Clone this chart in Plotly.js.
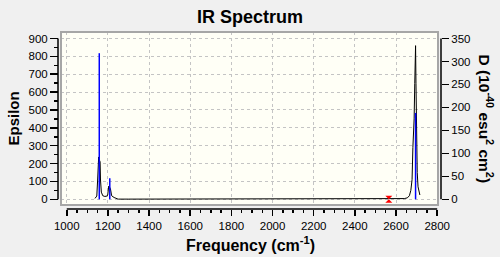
<!DOCTYPE html>
<html><head><meta charset="utf-8">
<script src="https://cdn.plot.ly/plotly-3.0.1.min.js"></script>
<style>html,body{margin:0;padding:0;background:#f0f0f0;}#chart{width:500px;height:257px;}</style>
</head><body><div id="chart"></div>
<script>
// Broadened IR spectrum (Epsilon, left axis)
const specFreq = [1137,1142,1146,1150,1155,1160,1162,1164,1168,1175,1185,1195,1199,1204,1208,1212,1218,1230,1245,1251,1300,1945,1950,2640,2655,2665,2672,2678,2682,2688,2691,2695,2697,2699,2701,2703,2707,2712,2716];
const specEps  = [5,10,18,108,237,215,210,108,40,20,16,18,24,74,70,61,20,10,3,1,1,1,4,4,8,20,50,110,290,450,649,860,649,300,230,150,70,40,24];
// Stick spectrum (dipole strength D, right axis)
const stickFreq = [1158,1209,2695];
const stickD    = [318,45.6,188];
// Selected point marker
const markFreq = [2565];
const markEps  = [0];
// Tick values
const xTicks = [1000,1200,1400,1600,1800,2000,2200,2400,2600,2800];
const yTicks = [0,100,200,300,400,500,600,700,800,900];
const y2Ticks = [0,50,100,150,200,250,300,350];

const stickX = [], stickY = [];
stickFreq.forEach((f,i)=>{ stickX.push(f,f,null); stickY.push(0,stickD[i],null); });

const F = 'Liberation Sans, Arial, sans-serif';
const tickFont = {family:F, size:11.5, color:'#000'};
const traces = [
  {x:specFreq, y:specEps, type:'scatter', mode:'lines', line:{color:'#000', width:1}, xaxis:'x', yaxis:'y', hoverinfo:'skip'},
  {x:stickX, y:stickY, type:'scatter', mode:'lines', line:{color:'#0000ff', width:1.5}, xaxis:'x', yaxis:'y2', hoverinfo:'skip'},
  {x:markFreq, y:markEps, type:'scatter', mode:'markers', marker:{symbol:'hourglass', size:7, color:'#ff0000'}, xaxis:'x', yaxis:'y', hoverinfo:'skip'}
];

const gridStyle = {showgrid:true, gridcolor:'#c4c4c4', gridwidth:1, griddash:'3px,3px'};
const layout = {
  width:500, height:257,
  margin:{l:58, r:59, t:32, b:48, pad:0},
  paper_bgcolor:'#f0f0f0', plot_bgcolor:'#fffff6',
  showlegend:false,
  xaxis:Object.assign({
    domain:[3/383, 380/383], range:[972, 2804], anchor:'free', position:0,
    tickmode:'array', tickvals:xTicks, ticktext:xTicks.map(String),
    ticks:'outside', ticklen:6, tickwidth:1.5, tickcolor:'#000',
    minor:{tickmode:'linear', tick0:1000, dtick:50, ticks:'outside', ticklen:3, tickwidth:1.5, tickcolor:'#000', showgrid:false},
    showline:false, zeroline:false, tickfont:tickFont
  }, gridStyle),
  yaxis:Object.assign({
    domain:[4/177, 1], range:[-31.9, 936.4], anchor:'free', position:0,
    tickmode:'array', tickvals:yTicks, ticktext:yTicks.map(String),
    ticks:'outside', ticklen:8, tickwidth:1.5, tickcolor:'#000',
    minor:{tickmode:'linear', tick0:0, dtick:50, ticks:'outside', ticklen:4, tickwidth:1.5, tickcolor:'#000', showgrid:false},
    showline:false, zeroline:false, tickfont:tickFont
  }, gridStyle),
  yaxis2:{
    overlaying:'y', side:'right', anchor:'free', position:1,
    range:[-31.9*350/900, 936.4*350/900],
    tickmode:'array', tickvals:y2Ticks, ticktext:y2Ticks.map(String),
    ticks:'outside', ticklen:7, tickwidth:1.5, tickcolor:'#000',
    showgrid:false, showline:false, zeroline:false, tickfont:tickFont
  },
  shapes:[
    {type:'rect', xref:'paper', yref:'paper', x0:3/383, x1:380/383, y0:4/177, y1:1, line:{color:'#a6a6a6', width:2}, layer:'above'},
    {type:'line', xref:'paper', yref:'y', x0:0, x1:0, y0:0, y1:900, line:{color:'#000', width:1.5}},
    {type:'line', xref:'paper', yref:'y', x0:1, x1:1, y0:0, y1:900, line:{color:'#000', width:1.5}},
    {type:'line', xref:'x', yref:'paper', x0:1000, x1:2800, y0:0, y1:0, line:{color:'#000', width:1.5}}
  ],
  annotations:[
    {text:'<b>IR Spectrum</b>', xref:'paper', yref:'paper', x:0.5, y:(209-16.5)/177, xanchor:'center', yanchor:'middle', showarrow:false, font:{family:F, size:18, color:'#000'}},
    {text:'<b>Epsilon</b>', xref:'paper', yref:'paper', x:(12.5-58)/383, y:(209-119)/177, xanchor:'center', yanchor:'middle', textangle:-90, showarrow:false, font:{family:F, size:15, color:'#000'}},
    {text:'<b>Frequency (cm<sup>-1</sup>)</b>', xref:'paper', yref:'paper', x:(250.8-58)/383, y:(209-244)/177, xanchor:'center', yanchor:'middle', showarrow:false, font:{family:F, size:16, color:'#000'}},
    {text:'<b>D (10<sup>-40</sup> esu<sup>2</sup> cm<sup>2</sup>)</b>', xref:'paper', yref:'paper', x:(486-58)/383, y:(209-118.5)/177, xanchor:'center', yanchor:'middle', textangle:90, showarrow:false, font:{family:F, size:15.5, color:'#000'}}
  ]
};
Plotly.newPlot('chart', traces, layout, {displayModeBar:false, staticPlot:true});
</script></body></html>
